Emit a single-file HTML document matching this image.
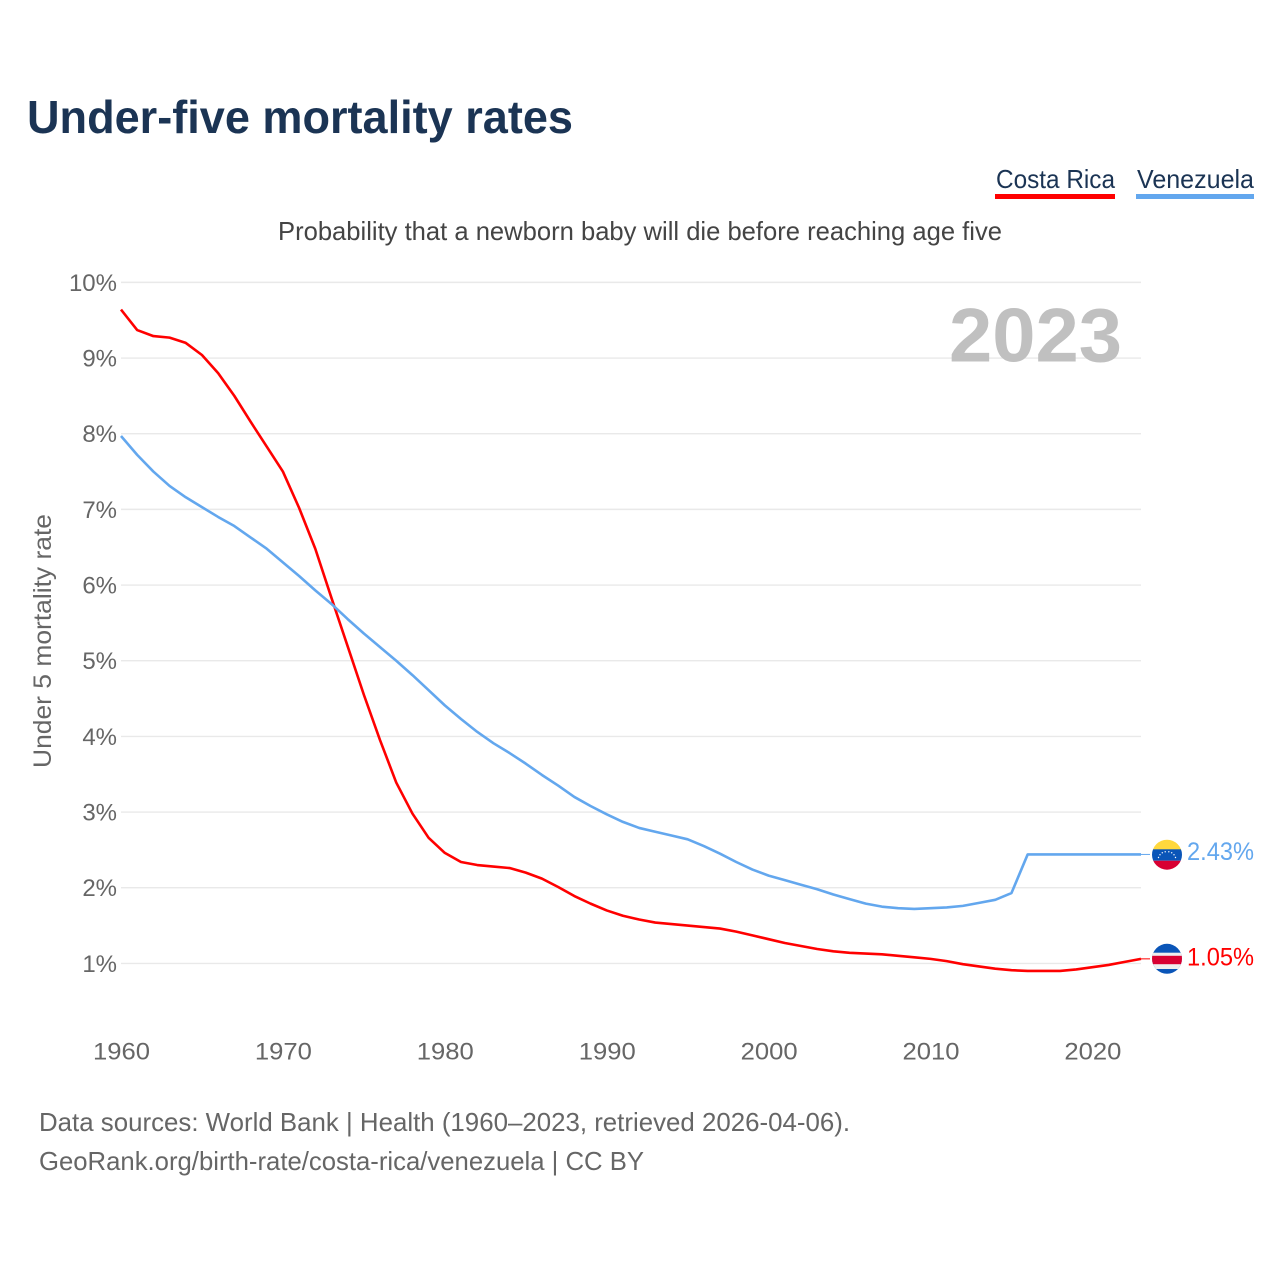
<!DOCTYPE html>
<html lang="en">
<head>
<meta charset="utf-8">
<title>Under-five mortality rates</title>
<style>
html,body{margin:0;padding:0;background:#fff;width:1280px;height:1280px;overflow:hidden}
svg{display:block}
text{font-family:"Liberation Sans",sans-serif}
</style>
</head>
<body>
<svg id="chart" xmlns="http://www.w3.org/2000/svg" width="1280" height="1280" viewBox="0 0 1280 1280">
  <defs>
    <clipPath id="flag-clip-ve"><circle cx="1167" cy="854.7" r="15"></circle></clipPath>
    <clipPath id="flag-clip-cr"><circle cx="1167" cy="958.8" r="15"></circle></clipPath>
  </defs>
  <text x="27" y="133" font-size="46" font-weight="700" fill="#1b3454" textLength="546" lengthAdjust="spacingAndGlyphs">Under-five mortality rates</text>

  <g>
    <text x="996" y="188" font-size="26" fill="#1b3454" textLength="119" lengthAdjust="spacingAndGlyphs">Costa Rica</text>
    <rect x="995" y="194" width="120" height="5" fill="#ff0000"></rect>
  </g>
  <g>
    <text x="1137" y="188" font-size="26" fill="#1b3454" textLength="117" lengthAdjust="spacingAndGlyphs">Venezuela</text>
    <rect x="1136" y="194" width="118" height="5" fill="#63a7ee"></rect>
  </g>

  <text x="278" y="240" font-size="26" fill="#444444" textLength="724" lengthAdjust="spacingAndGlyphs">Probability that a newborn baby will die before reaching age five</text>
  <text transform="translate(51 768) rotate(-90)" font-size="25" fill="#666666" textLength="254" lengthAdjust="spacingAndGlyphs">Under 5 mortality rate</text>

  <g id="grid"></g>
  <g id="y-ticks"></g>
  <g id="x-ticks"></g>

  <text x="949" y="361.5" font-size="76" font-weight="700" fill="#c0c0c0" textLength="173" lengthAdjust="spacingAndGlyphs">2023</text>

  <g id="series"></g>

  <g id="flag-ve" clip-path="url(#flag-clip-ve)">
    <rect x="1152" y="839" width="30" height="10.5" fill="#ffd83d"></rect>
    <rect x="1152" y="849.3" width="30" height="11.4" fill="#0a55b8"></rect>
    <rect x="1152" y="860.7" width="30" height="10" fill="#d80032"></rect>
    <g fill="#ffffff">
      <circle cx="1158.5" cy="857.5" r="0.7"></circle><circle cx="1160" cy="854.8" r="0.7"></circle>
      <circle cx="1162.3" cy="852.8" r="0.7"></circle><circle cx="1165.2" cy="851.8" r="0.7"></circle>
      <circle cx="1168.8" cy="851.8" r="0.7"></circle><circle cx="1171.7" cy="852.8" r="0.7"></circle>
      <circle cx="1174" cy="854.8" r="0.7"></circle><circle cx="1175.5" cy="857.5" r="0.7"></circle>
    </g>
  </g>
  <g id="flag-cr" clip-path="url(#flag-clip-cr)">
    <rect x="1152" y="943" width="30" height="32" fill="#0a55b8"></rect>
    <rect x="1152" y="952.7" width="30" height="16.3" fill="#eeeeee"></rect>
    <rect x="1152" y="955.8" width="30" height="8.4" fill="#d80032"></rect>
  </g>

  <text x="1254" y="860" text-anchor="end" font-size="25" fill="#63a7ee" textLength="67" lengthAdjust="spacingAndGlyphs">2.43%</text>
  <text x="1254" y="965.5" text-anchor="end" font-size="25" fill="#ff0000" textLength="67" lengthAdjust="spacingAndGlyphs">1.05%</text>

  <text x="39" y="1131" font-size="26" fill="#666666" textLength="811" lengthAdjust="spacingAndGlyphs">Data sources: World Bank | Health (1960–2023, retrieved 2026-04-06).</text>
  <text x="39" y="1170" font-size="26" fill="#666666" textLength="605" lengthAdjust="spacingAndGlyphs">GeoRank.org/birth-rate/costa-rica/venezuela | CC BY</text>
</svg>
<script>
const startYear = 1960;
const yearTicks = [1960, 1970, 1980, 1990, 2000, 2010, 2020];
const yearTickLabels = ['1960', '1970', '1980', '1990', '2000', '2010', '2020'];
const valueTicks = [1, 2, 3, 4, 5, 6, 7, 8, 9, 10];
const valueTickLabels = ['1%', '2%', '3%', '4%', '5%', '6%', '7%', '8%', '9%', '10%'];
const costaRica = [
  9.64, 9.37, 9.29, 9.27, 9.20, 9.04, 8.80, 8.50, 8.16, 7.83,
  7.50, 7.02, 6.48, 5.83, 5.19, 4.55, 3.95, 3.39, 2.98, 2.66,
  2.46, 2.34, 2.30, 2.28, 2.26, 2.20, 2.12, 2.01, 1.89, 1.79,
  1.70, 1.63, 1.58, 1.54, 1.52, 1.50, 1.48, 1.46, 1.42, 1.37,
  1.32, 1.27, 1.23, 1.19, 1.16, 1.14, 1.13, 1.12, 1.10, 1.08,
  1.06, 1.03, 0.99, 0.96, 0.93, 0.91, 0.90, 0.90, 0.90, 0.92,
  0.95, 0.98, 1.02, 1.06
];
const venezuela = [
  7.97, 7.72, 7.50, 7.31, 7.16, 7.03, 6.90, 6.78, 6.63, 6.48,
  6.30, 6.12, 5.93, 5.75, 5.55, 5.36, 5.18, 5.00, 4.81, 4.61,
  4.41, 4.23, 4.06, 3.91, 3.78, 3.64, 3.49, 3.35, 3.20, 3.08,
  2.97, 2.87, 2.79, 2.74, 2.69, 2.64, 2.55, 2.45, 2.34, 2.24,
  2.16, 2.10, 2.04, 1.98, 1.91, 1.85, 1.79, 1.75, 1.73, 1.72,
  1.73, 1.74, 1.76, 1.80, 1.84, 1.93, 2.44, 2.44, 2.44, 2.44,
  2.44, 2.44, 2.44, 2.44
];

const SVG_NS = 'http://www.w3.org/2000/svg';
const xOf = function (year) { return 121 + (year - 1960) * (1141 - 121) / 63; };
const yOf = function (value) { return 963.4 - (value - 1) * 75.67; };

const grid = document.getElementById('grid');
const yTicksGroup = document.getElementById('y-ticks');
const xTicksGroup = document.getElementById('x-ticks');
const seriesGroup = document.getElementById('series');

valueTicks.forEach(function (value, i) {
  const line = document.createElementNS(SVG_NS, 'line');
  
  
  line.setAttribute('x1', 121);
  line.setAttribute('x2', 1141);
  line.setAttribute('y1', yOf(value));
  line.setAttribute('y2', yOf(value));
  line.setAttribute('stroke', '#e9e9e9');
  line.setAttribute('stroke-width', '1.4');
  grid.appendChild(line);

  const label = document.createElementNS(SVG_NS, 'text');
  
  
  label.setAttribute('x', 117);
  label.setAttribute('y', yOf(value) + 8.5);
  label.setAttribute('text-anchor', 'end');
  label.setAttribute('font-size', '24');
  label.setAttribute('fill', '#666666');
  label.textContent = valueTickLabels[i];
  yTicksGroup.appendChild(label);
});

yearTicks.forEach(function (year, i) {
  const label = document.createElementNS(SVG_NS, 'text');
  
  
  label.setAttribute('x', xOf(year) + 0.5);
  label.setAttribute('y', 1059.5);
  label.setAttribute('text-anchor', 'middle');
  label.setAttribute('font-size', '24');
  label.setAttribute('fill', '#666666');
  label.setAttribute('textLength', '57');
  label.setAttribute('lengthAdjust', 'spacingAndGlyphs');
  label.textContent = yearTickLabels[i];
  xTicksGroup.appendChild(label);
});

function drawSeries(values, color) {
  const points = values.map(function (value, i) {
    return xOf(startYear + i).toFixed(2) + ',' + yOf(value).toFixed(2);
  }).join(' ');
  const lastY = yOf(values[values.length - 1]);

  const line = document.createElementNS(SVG_NS, 'polyline');
  
  
  line.setAttribute('points', points);
  line.setAttribute('fill', 'none');
  line.setAttribute('stroke', color);
  line.setAttribute('stroke-width', '2.6');
  line.setAttribute('stroke-linejoin', 'round');
  seriesGroup.appendChild(line);

  const connector = document.createElementNS(SVG_NS, 'line');
  
  
  connector.setAttribute('x1', 1141);
  connector.setAttribute('x2', 1150);
  connector.setAttribute('y1', lastY);
  connector.setAttribute('y2', lastY);
  connector.setAttribute('stroke', color);
  connector.setAttribute('stroke-width', '1');
  seriesGroup.appendChild(connector);
}

drawSeries(costaRica, '#ff0000');
drawSeries(venezuela, '#63a7ee');
</script>
</body>
</html>
